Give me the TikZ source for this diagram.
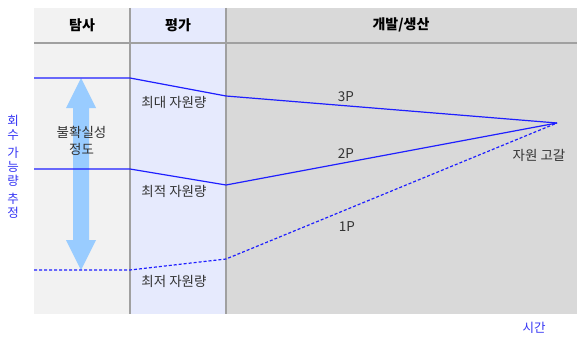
\documentclass[tikz,border=0pt]{standalone}
\usepackage{fontspec}
\setmainfont{Noto Sans CJK KR}
\definecolor{colA}{HTML}{F2F2F2}
\definecolor{colB}{HTML}{E6EAFD}
\definecolor{colC}{HTML}{D9D9D9}
\definecolor{gridgray}{HTML}{A0A0A0}
\definecolor{lineblue}{HTML}{1F1FFF}
\definecolor{txtblue}{HTML}{3535F5}
\definecolor{arrowblue}{HTML}{99CCFF}
\definecolor{txtgray}{HTML}{333333}
\tikzset{
  hdr/.style={font=\fontsize{14}{16}\selectfont\bfseries, text=black, inner sep=0pt},
  lbl/.style={font=\fontsize{13.5}{17}\selectfont, text=txtgray, inner sep=0pt, align=center},
  bluelbl/.style={font=\fontsize{12.5}{14}\selectfont, text=txtblue, inner sep=0pt, align=center},
  grid/.style={draw=gridgray, line width=1.2pt},
  resline/.style={draw=lineblue, line width=1.2pt},
  resdash/.style={draw=lineblue, line width=1.2pt, dash pattern=on 3pt off 2pt},
}
\begin{document}
\begin{tikzpicture}[x=1pt,y=-1pt]
\useasboundingbox (0,0) rectangle (580,337);
\fill[white] (0,0) rectangle (580,337);
% columns
\fill[colA] (34,8) rectangle (130,314);
\fill[colB] (130,8) rectangle (226,314);
\fill[colC] (226,8) rectangle (577,314);
\draw[grid] (130,8) -- (130,314);
\draw[grid] (226,8) -- (226,314);
\draw[grid, line width=1.5pt] (34,43) -- (577,43);
% headers
\node[hdr] (h1) at (82,25) {탐사};
\node[hdr] (h2) at (178,25) {평가};
\node[hdr] (h3) at (401,25) {개발/생산};
% uncertainty arrow
\fill[arrowblue] (81,78) -- (96,108) -- (89,108) -- (89,240) -- (96,240) -- (81,270)
  -- (66,240) -- (73,240) -- (73,108) -- (66,108) -- cycle;
% coordinates
\coordinate (a0) at (34,78);
\coordinate (a1) at (130,78);
\coordinate (a2) at (226,96);
\coordinate (b0) at (34,169);
\coordinate (b1) at (130,169);
\coordinate (b2) at (226,185);
\coordinate (c0) at (34,270);
\coordinate (c1) at (130,270);
\coordinate (c2) at (226,259);
\coordinate (end) at (557,123);
% lines
\draw[resline] (a0) -- (a1) -- (a2) -- (end);
\draw[resline] (b0) -- (b1) -- (b2) -- (end);
\draw[resdash] (c0) -- (c1) -- (c2) -- (end);
% labels
\node[lbl] (unc) at (81.5,141) {불확실성\\정도};
\node[lbl] (max) at (174,102.5) {최대 자원량};
\node[lbl] (opt) at (174,191.5) {최적 자원량};
\node[lbl] (min) at (174,281) {최저 자원량};
\node[lbl] (p3) at (346,96.7) {3P};
\node[lbl] (p2) at (346,153.5) {2P};
\node[lbl] (p1) at (347,226.7) {1P};
\node[lbl] (dep) at (539,155.5) {자원 고갈};
\node[bluelbl] (time) at (534,328) {시간};
\node[bluelbl] (est) at (13,166.5) {회\\수\\[4pt]가\\능\\량\\[4pt]추\\정};
\end{tikzpicture}
\end{document}
